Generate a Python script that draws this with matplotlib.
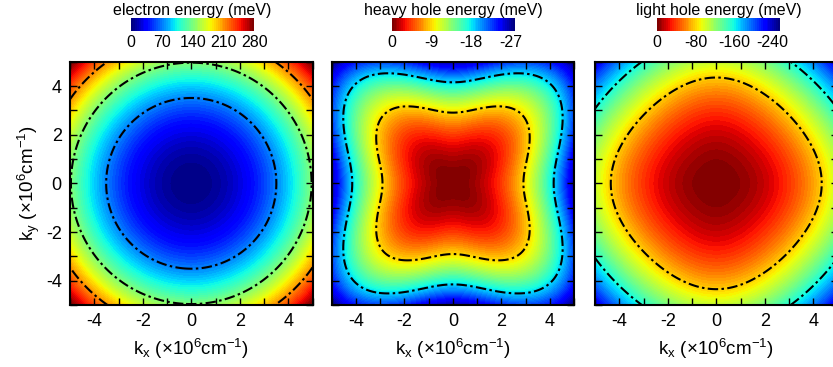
import numpy as np
import matplotlib
matplotlib.use("Agg")
from matplotlib import pyplot as plt
from matplotlib import colors, cm
from matplotlib.ticker import MultipleLocator

plt.rcParams["font.family"] = ["Liberation Sans", "DejaVu Sans"]
plt.rcParams["mathtext.default"] = "regular"
plt.rcParams["axes.unicode_minus"] = False

# GaAs band parameters (electron mass and Luttinger parameters)
m_e = 0.067
gamma1, gamma2, gamma3 = 6.98, 2.06, 2.93
E0 = 0.381  # hbar^2/2m0 in meV, k in units of 1e6 cm^-1

k_max = 5.0
n_k = 401

titles = ["electron energy (meV)", "heavy hole energy (meV)", "light hole energy (meV)"]
cbar_ticks = [[0, 70, 140, 210, 280], [0, -9, -18, -27], [0, -80, -160, -240]]
cbar_ranges = [(0, 280), (-28, 0), (-255, 0)]
contour_levels = [[70, 140, 210], [-18.8, -9.2], [-160, -80]]
inverted = [False, True, True]

k = np.linspace(-k_max, k_max, n_k)
kx, ky = np.meshgrid(k, k)
k2 = kx**2 + ky**2
root = np.sqrt(4 * gamma2**2 * k2**2 + 12 * (gamma3**2 - gamma2**2) * kx**2 * ky**2)
energies = [
    E0 * k2 / m_e,
    -E0 * (gamma1 * k2 - root),
    -E0 * (gamma1 * k2 + root),
]

W, H = 833, 367
fig = plt.figure(figsize=(W / 100, H / 100), dpi=100)

ax_left = [70, 331.7, 595]
ax_w = 242.5
ax_top, ax_bot = 61.7, 305
cb_left = [131, 391.7, 656.7]
cb_w = 123.3
cb_top, cb_bot = 18.3, 30.7

dash_dot = (0, (5, 1.6, 1.2, 1.6))
n_bands = 64

for i in range(3):
    ax = fig.add_axes([ax_left[i] / W, 1 - ax_bot / H, ax_w / W, (ax_bot - ax_top) / H])
    vmin, vmax = cbar_ranges[i]
    norm = colors.Normalize(vmin=vmin, vmax=vmax)
    levels = np.linspace(vmin, vmax, n_bands + 1)
    ax.contourf(kx, ky, energies[i], levels=levels, cmap="jet", norm=norm, extend="both")
    ax.contour(kx, ky, energies[i], levels=contour_levels[i], colors="k",
               linewidths=1.5, linestyles=[dash_dot])
    ax.set_xlim(-k_max, k_max)
    ax.set_ylim(-k_max, k_max)
    ax.xaxis.set_major_locator(MultipleLocator(2))
    ax.yaxis.set_major_locator(MultipleLocator(2))
    ax.xaxis.set_minor_locator(MultipleLocator(1))
    ax.yaxis.set_minor_locator(MultipleLocator(1))
    ax.tick_params(which="both", direction="in", top=True, right=True,
                   length=5, width=1, labelsize=13, pad=6)
    for sp in ax.spines.values():
        sp.set_linewidth(1.5)
    ax.set_xlabel("k$_x$ (×10$^6$cm$^{-1}$)", fontsize=13.5, labelpad=5)
    if i == 0:
        ax.set_ylabel("k$_y$ (×10$^6$cm$^{-1}$)", fontsize=13.5, labelpad=3)
    else:
        ax.tick_params(labelleft=False)

    cax = fig.add_axes([cb_left[i] / W, 1 - cb_bot / H, cb_w / W, (cb_bot - cb_top) / H])
    sm = cm.ScalarMappable(norm=norm, cmap=plt.get_cmap("jet", n_bands))
    cb = fig.colorbar(sm, cax=cax, orientation="horizontal")
    cb.outline.set_visible(False)
    cb.set_ticks(cbar_ticks[i])
    cax.tick_params(length=0, labelsize=11.5, pad=3)
    if inverted[i]:
        cax.invert_xaxis()
    cax.set_title(titles[i], fontsize=11.5, pad=1)

fig.savefig("out.png", dpi=100)
